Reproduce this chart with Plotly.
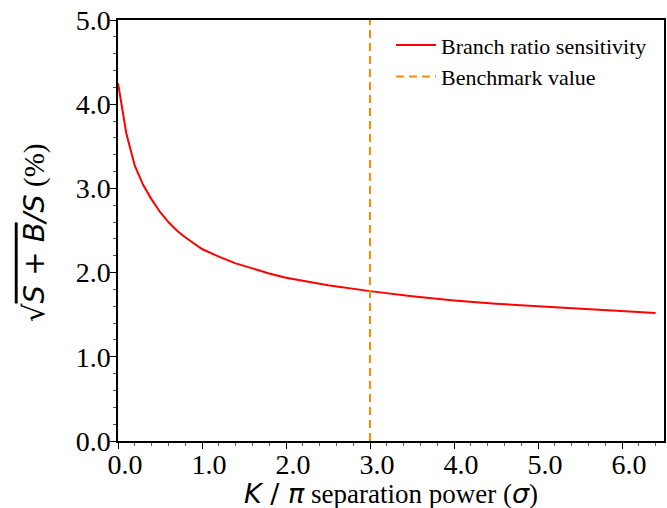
import plotly.graph_objects as go

# Data
sep_power = [0.0, 0.05, 0.1, 0.2, 0.3, 0.4, 0.5, 0.6, 0.7, 0.8, 1.0, 1.2, 1.4, 1.6, 1.8,
             2.0, 2.5, 3.0, 3.5, 4.0, 4.5, 5.0, 5.5, 6.0, 6.4]
sensitivity = [4.25, 3.95, 3.65, 3.27, 3.04, 2.87, 2.72, 2.60, 2.50, 2.42, 2.28, 2.19, 2.11,
               2.05, 1.99, 1.94, 1.85, 1.78, 1.72, 1.67, 1.63, 1.60, 1.57, 1.54, 1.52]
benchmark_x = [3.0, 3.0]
benchmark_y = [0.0, 5.0]

SERIF = "Liberation Serif"
SANS = "DejaVu Sans"

fig = go.Figure()
fig.add_trace(go.Scatter(x=sep_power, y=sensitivity, mode="lines",
                         name="Branch ratio sensitivity",
                         line=dict(color="#ff0000", width=2)))
fig.add_trace(go.Scatter(x=benchmark_x, y=benchmark_y, mode="lines",
                         name="Benchmark value",
                         line=dict(color="#ff8c00", width=2, dash="8px,5px")))

ytitle = (f'<span style="font-family:{SANS}">√<span style="text-decoration:overline">'
          f'<i>S + B</i></span><i>/S</i></span> (%)')
xtitle = (f'<span style="font-family:{SANS}"><i>K</i> / <i>π</i></span> separation power '
          f'(<span style="font-family:{SANS}"><i>σ</i></span>)')

tickfont = dict(family=SERIF, size=28, color="black")
axis_common = dict(showline=True, linecolor="black", linewidth=1.5, mirror=True,
                   ticks="outside", ticklen=6, tickwidth=1.2, tickcolor="black",
                   showgrid=False, zeroline=False, tickformat=".1f",
                   tickfont=tickfont)

fig.update_layout(
    width=667, height=508,
    margin=dict(l=118, r=1, t=20, b=67),
    plot_bgcolor="white", paper_bgcolor="white",
    font=dict(family=SERIF, size=28, color="black"),
    xaxis=dict(range=[0, 6.5], dtick=1.0, tick0=0,
               ticklabelstandoff=-8, ticklabelshift=7,
               minor=dict(dtick=0.2, ticks="outside", ticklen=3, tickcolor="#555", tickwidth=1),
               **axis_common),
    yaxis=dict(range=[0, 5], dtick=1.0, tick0=0,
               ticklabelstandoff=-6,
               minor=dict(dtick=0.2, ticks="outside", ticklen=3, tickcolor="#555", tickwidth=1),
               **axis_common),
    legend=dict(x=0.978, y=0.99, xanchor="right", yanchor="top",
                bgcolor="rgba(0,0,0,0)", font=dict(family=SERIF, size=22, color="black"),
                itemwidth=40, tracegroupgap=0),
    showlegend=True,
    annotations=[
        dict(text=xtitle, xref="paper", yref="paper", x=0.5, y=-0.125,
             xanchor="center", yanchor="middle", showarrow=False,
             font=dict(family=SERIF, size=27, color="black")),
        dict(text=ytitle, xref="paper", yref="paper", x=-0.155, y=0.495,
             xanchor="center", yanchor="middle", showarrow=False, textangle=-90,
             font=dict(family=SERIF, size=29, color="black")),
    ],
)

fig.write_html("out.html")
